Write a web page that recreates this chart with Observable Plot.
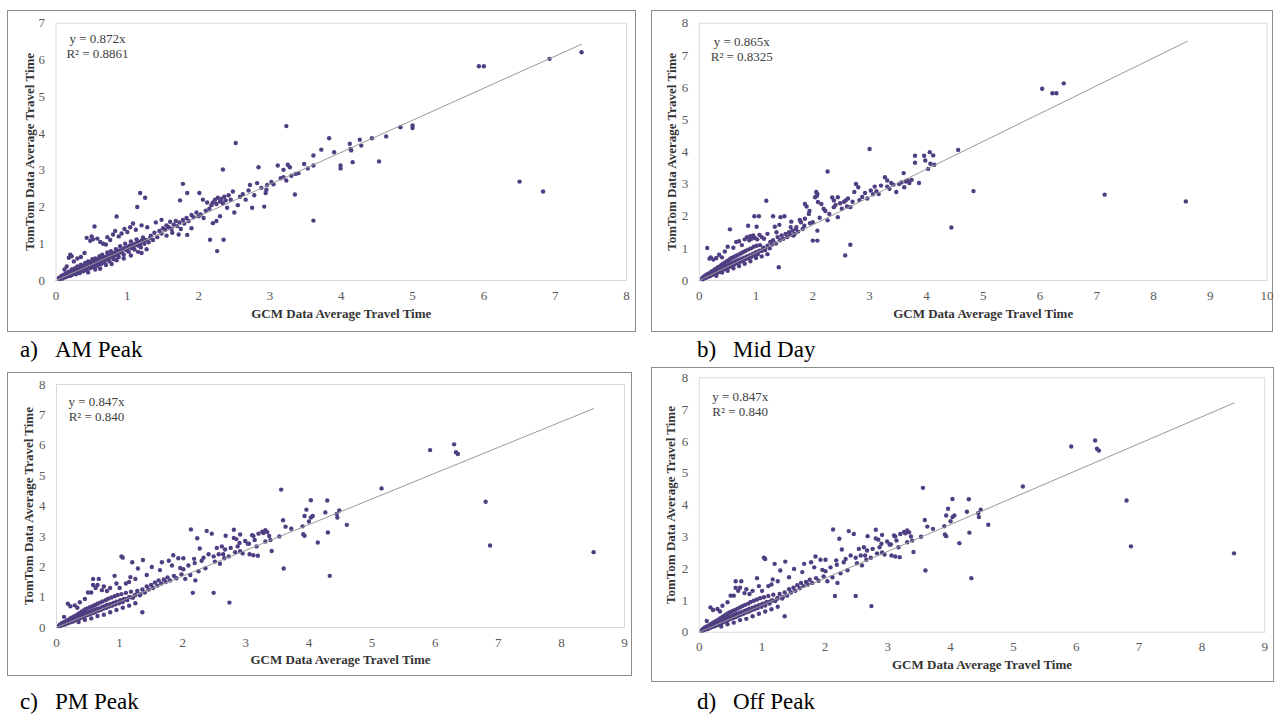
<!DOCTYPE html>
<html><head><meta charset="utf-8">
<script src="https://cdn.jsdelivr.net/npm/d3@7"></script>
<script src="https://cdn.jsdelivr.net/npm/@observablehq/plot@0.6"></script>
<style>
body{margin:0;background:#fff;}
#page{position:relative;width:1279px;height:714px;overflow:hidden;font-family:"Liberation Serif","Times New Roman",serif;}
.panel{position:absolute;outline:1px solid #8c8c8c;outline-offset:-1px;}
.panel svg{position:absolute;left:0;top:0;}
.cap{position:absolute;font-size:23px;color:#000;white-space:pre;line-height:1;}
</style></head><body><div id="page"></div>
<script>
const xTitle = "GCM Data Average Travel Time";
const yTitle = "TomTom Data Average Travel Time";
const captionLetters = ["a)", "b)", "c)", "d)"];
const captionNames = ["AM Peak", "Mid Day", "PM Peak", "Off Peak"];
const slopes = [0.872, 0.865, 0.847, 0.847];
const r2Labels = ["0.8861", "0.8325", "0.840", "0.840"];
const xMaxes = [8, 10, 9, 9];
const yMaxes = [7, 8, 8, 8];
const trendEndX = [7.37, 8.6, 8.51, 8.51];

const amPeak = [
[0.04,0.07],[0.05,0.04],[0.06,0.09],[0.07,0.06],[0.08,0.13],[0.09,0.05],[0.1,0.11],[0.11,0.16],[0.12,0.08],[0.13,0.12],[0.14,0.2],[0.15,0.1],[0.16,0.15],[0.17,0.12],[0.18,0.24],[0.19,0.17],[0.2,0.13],[0.21,0.21],[0.22,0.3],[0.23,0.16],[0.24,0.25],[0.25,0.19],[0.26,0.33],[0.27,0.22],[0.28,0.17],[0.29,0.29],[0.3,0.38],[0.31,0.24],[0.32,0.31],[0.33,0.2],[0.34,0.36],[0.35,0.43],[0.36,0.28],[0.37,0.33],[0.38,0.25],[0.39,0.4],[0.4,0.31],[0.41,0.48],[0.42,0.36],[0.43,0.28],[0.44,0.42],[0.45,0.52],[0.46,0.38],[0.47,0.45],[0.48,0.33],[0.49,0.5],[0.5,0.41],[0.51,0.58],[0.52,0.44],[0.53,0.36],[0.54,0.49],[0.55,0.6],[0.56,0.46],[0.57,0.53],[0.58,0.4],[0.59,0.56],[0.6,0.49],[0.61,0.66],[0.62,0.52],[0.63,0.44],[0.64,0.6],[0.65,0.7],[0.66,0.55],[0.67,0.62],[0.68,0.48],[0.7,0.64],[0.71,0.57],[0.72,0.76],[0.73,0.62],[0.75,0.52],[0.76,0.69],[0.77,0.8],[0.78,0.65],[0.8,0.72],[0.81,0.58],[0.82,0.75],[0.84,0.85],[0.85,0.7],[0.86,0.78],[0.88,0.64],[0.89,0.82],[0.9,0.93],[0.92,0.76],[0.93,0.84],[0.95,0.7],[0.96,0.88],[0.97,1.0],[0.99,0.82],[1.0,0.9],[1.02,0.78],[1.03,0.95],[1.05,1.06],[1.06,0.88],[1.08,0.97],[1.1,0.84],[1.11,1.0],[1.13,1.12],[1.15,0.95],[1.17,1.04],[1.19,0.9],[1.2,1.08],[1.22,1.17],[1.24,1.0],[1.26,1.1],[1.3,1.04],[1.32,1.16],
[0.06,0.07],[0.09,0.1],[0.12,0.14],[0.14,0.12],[0.16,0.19],[0.19,0.2],[0.21,0.15],[0.23,0.23],[0.25,0.26],[0.27,0.27],[0.29,0.22],[0.31,0.3],[0.33,0.34],[0.35,0.27],[0.37,0.39],[0.4,0.37],[0.42,0.42],[0.44,0.35],[0.46,0.47],[0.48,0.43],[0.5,0.47],[0.52,0.52],[0.54,0.43],[0.56,0.55],[0.58,0.5],[0.6,0.57],[0.63,0.55],[0.66,0.6],[0.69,0.58],[0.72,0.66],[0.75,0.62],[0.79,0.7],[0.83,0.68],[0.87,0.74],[0.91,0.8],[0.95,0.85],[1.0,0.86],[1.04,0.92],[1.09,0.93],[1.14,1.02],[1.18,0.98],[1.23,1.08],
[0.12,0.3],[0.15,0.38],[0.18,0.62],[0.2,0.7],[0.22,0.66],[0.25,0.52],[0.3,0.6],[0.35,0.64],[0.4,0.75],[0.43,1.16],[0.48,1.08],[0.5,1.2],[0.52,1.12],[0.54,1.47],[0.58,1.14],[0.62,1.05],[0.66,1.0],[0.7,0.98],[0.72,1.18],[0.76,1.1],[0.8,1.25],[0.83,1.35],[0.85,1.74],[0.88,1.2],[0.92,1.28],[0.96,1.4],[1.0,1.32],[1.04,1.45],[1.08,1.55],[1.12,1.38],[1.14,2.0],[1.18,2.38],[1.2,1.5],[1.25,2.25],[1.28,1.45],
[0.45,0.22],[0.55,0.3],[0.62,0.32],[0.7,0.42],[0.78,0.45],[0.85,0.55],[0.95,0.6],[1.05,0.68],[1.15,0.78],[1.27,0.85],[1.2,0.75],
[1.33,1.22],[1.36,1.1],[1.38,1.3],[1.42,1.18],[1.45,1.35],[1.48,1.28],[1.5,1.42],[1.53,1.38],[1.55,1.5],[1.58,1.45],[1.6,1.6],[1.62,1.4],[1.65,1.52],[1.68,1.62],[1.7,1.48],[1.73,1.58],[1.75,1.4],[1.78,1.65],[1.8,1.55],[1.83,1.7],[1.86,1.62],[1.9,1.78],[1.93,1.72],[1.97,1.85],[2.0,1.75],[2.03,1.8],[2.07,1.7],[2.1,1.9],[1.4,1.58],[1.48,1.65],[1.55,1.22],[1.63,1.3],[1.72,1.25],[1.84,1.24],[1.9,1.42],[1.74,2.18],[1.78,2.63],[1.84,2.38],[2.01,2.38],[2.06,2.2],[2.12,2.12],[2.16,1.11],[2.35,1.11],[2.26,0.8],[2.2,1.56],[2.25,1.62],[2.3,1.75],[2.15,1.95],[2.18,2.05],[2.2,2.12],[2.23,2.2],[2.25,2.08],[2.27,2.25],[2.3,2.15],[2.32,2.22],[2.34,2.1],[2.36,2.28],[2.38,2.18],[2.4,1.98],[2.42,2.32],[2.45,2.2],[2.48,2.42],[2.5,1.85],[2.34,3.02],[2.52,3.74],[2.55,2.05],[2.58,2.28],[2.62,2.35],[2.66,2.2],[2.7,2.45],[2.72,2.6],[2.75,1.98],[2.78,2.32],[2.82,2.65],[2.84,3.08],[2.88,2.52],[2.92,2.01],[2.94,2.38],[2.95,2.47],[2.96,2.6],[3.02,2.68],[3.05,2.62],[3.11,3.13],[3.15,2.78],[3.19,3.01],[3.19,2.81],[3.23,2.72],[3.25,3.15],[3.28,3.08],[3.3,2.85],[3.35,2.34],[3.36,2.9],[3.4,2.92],[3.48,3.17],[3.53,3.05],[3.61,3.4],[3.61,3.13],[3.61,1.63],[3.23,4.2],[3.72,3.56],[3.83,3.87],[3.9,3.49],[3.99,3.13],[3.99,3.05],[4.12,3.72],[4.13,3.58],[4.14,3.54],[4.16,3.22],[4.26,3.83],[4.28,3.67],[4.43,3.87],[4.53,3.24],[4.63,3.92],[4.83,4.17],[5.0,4.22],[5.0,4.15],[5.93,5.83],[6.0,5.83],[6.92,6.03],[7.37,6.21],[6.5,2.69],[6.83,2.42]
];

const midDay = [
[0.05,0.07],[0.06,0.04],[0.07,0.1],[0.08,0.06],[0.09,0.13],[0.1,0.08],[0.11,0.12],[0.12,0.17],[0.13,0.09],[0.14,0.14],[0.15,0.2],[0.16,0.12],[0.17,0.17],[0.18,0.23],[0.19,0.14],[0.2,0.19],[0.21,0.27],[0.22,0.17],[0.23,0.22],[0.24,0.3],[0.25,0.19],[0.26,0.25],[0.27,0.34],[0.28,0.21],[0.29,0.28],[0.3,0.37],[0.31,0.24],[0.32,0.3],[0.33,0.41],[0.34,0.26],[0.35,0.33],[0.36,0.44],[0.37,0.29],[0.38,0.36],[0.39,0.48],[0.4,0.31],[0.41,0.39],[0.42,0.52],[0.43,0.34],[0.44,0.42],[0.45,0.55],[0.46,0.36],[0.47,0.45],[0.48,0.59],[0.49,0.39],[0.5,0.47],[0.51,0.62],[0.52,0.42],[0.53,0.5],[0.54,0.66],[0.55,0.45],[0.56,0.53],[0.57,0.7],[0.58,0.47],[0.6,0.56],[0.61,0.73],[0.62,0.5],[0.63,0.59],[0.65,0.77],[0.66,0.54],[0.67,0.62],[0.69,0.8],[0.7,0.57],[0.71,0.65],[0.73,0.84],[0.74,0.6],[0.75,0.68],[0.77,0.88],[0.78,0.64],[0.79,0.71],[0.81,0.92],[0.82,0.67],[0.84,0.75],[0.86,0.96],[0.87,0.7],[0.89,0.78],[0.91,1.0],[0.92,0.74],[0.94,0.82],[0.96,1.05],[0.97,0.78],[0.99,0.86],[1.01,1.08],[1.03,0.82],[1.05,0.9],[1.07,1.1],[1.1,0.92],[1.13,1.02],[1.16,0.95],[1.2,1.08],[1.24,1.0],[1.28,1.12],
[0.1,0.11],[0.13,0.13],[0.16,0.16],[0.19,0.18],[0.22,0.2],[0.25,0.23],[0.28,0.26],[0.31,0.28],[0.34,0.31],[0.37,0.34],[0.4,0.36],[0.43,0.38],[0.46,0.41],[0.5,0.44],[0.54,0.48],[0.58,0.52],[0.62,0.55],[0.66,0.58],[0.7,0.62],[0.75,0.65],[0.8,0.7],[0.85,0.73],[0.9,0.78],[0.95,0.83],[1.0,0.88],[1.06,0.93],[1.12,0.97],
[0.14,1.01],[0.18,0.68],[0.2,0.72],[0.25,0.65],[0.3,0.7],[0.35,0.8],[0.4,0.72],[0.45,0.9],[0.5,1.05],[0.54,1.59],[0.6,1.02],[0.65,1.2],[0.7,1.22],[0.75,1.1],[0.8,1.28],[0.84,1.35],[0.86,1.7],[0.88,1.25],[0.9,1.38],[0.92,1.3],[0.95,1.4],[0.97,2.0],[0.98,1.32],[1.01,1.67],[1.02,1.28],[1.05,2.0],[1.06,1.42],[1.1,1.35],[1.14,1.3],[1.18,2.48],[1.2,1.45],[1.25,1.2],[1.3,2.0],[1.33,1.67],[1.36,1.5],[1.41,1.73],[1.43,1.97],
[0.3,0.15],[0.4,0.25],[0.5,0.3],[0.6,0.38],[0.7,0.45],[0.8,0.52],[0.9,0.6],[1.0,0.7],[1.1,0.75],[1.2,0.82],[1.4,0.41],
[1.3,1.25],[1.35,1.15],[1.38,1.35],[1.42,1.25],[1.45,1.4],[1.48,1.3],[1.5,2.0],[1.52,1.45],[1.55,1.35],[1.58,1.5],[1.6,1.42],[1.61,1.66],[1.64,1.55],[1.66,1.4],[1.68,1.45],[1.7,1.6],[1.71,1.66],[1.74,1.52],[1.77,1.88],[1.79,1.81],[1.62,1.83],[1.82,1.6],[1.85,1.7],[1.86,2.38],[1.86,1.92],[1.89,2.3],[1.93,2.07],[1.94,2.16],[1.95,1.78],[2.0,1.81],[2.0,1.24],[2.04,2.59],[2.06,2.75],[2.07,2.63],[2.08,2.69],[2.08,1.55],[2.08,1.24],[2.09,2.44],[2.12,1.95],[2.15,2.38],[2.19,2.23],[2.22,2.16],[2.26,3.39],[2.26,1.87],[2.29,2.07],[2.34,2.58],[2.37,2.28],[2.37,2.49],[2.4,2.35],[2.44,2.59],[2.44,1.97],[2.48,2.4],[2.51,2.23],[2.55,2.45],[2.57,0.78],[2.58,2.49],[2.6,2.3],[2.62,2.55],[2.66,1.11],[2.66,2.28],[2.7,2.45],[2.73,2.75],[2.76,3.0],[2.8,2.9],[2.82,2.5],[2.87,2.6],[2.92,2.72],[2.96,2.55],[3.0,4.09],[3.02,2.8],[3.06,2.68],[3.09,2.92],[3.12,2.78],[3.16,2.69],[3.2,2.95],[3.27,3.21],[3.31,3.11],[3.31,2.92],[3.35,2.85],[3.38,3.03],[3.42,2.98],[3.47,2.75],[3.52,3.0],[3.56,3.05],[3.6,3.34],[3.61,2.9],[3.64,3.08],[3.67,3.11],[3.7,3.03],[3.74,3.13],[3.8,3.88],[3.8,3.66],[3.87,3.03],[3.96,3.88],[3.98,3.73],[4.03,3.47],[4.06,3.99],[4.07,3.63],[4.12,3.89],[4.14,3.6],[4.44,1.65],[4.56,4.06],[4.83,2.78],[6.04,5.96],[6.22,5.82],[6.29,5.82],[6.42,6.13],[7.14,2.67],[8.57,2.46]
];

const pmPeak = [
[0.04,0.05],[0.05,0.09],[0.06,0.06],[0.07,0.11],[0.08,0.07],[0.09,0.15],[0.1,0.09],[0.11,0.13],[0.12,0.18],[0.13,0.1],[0.14,0.16],[0.15,0.12],[0.16,0.22],[0.17,0.14],[0.18,0.19],[0.19,0.26],[0.2,0.16],[0.21,0.22],[0.22,0.3],[0.23,0.18],[0.24,0.25],[0.25,0.33],[0.26,0.2],[0.27,0.28],[0.28,0.36],[0.29,0.23],[0.3,0.3],[0.31,0.4],[0.32,0.26],[0.33,0.33],[0.34,0.44],[0.35,0.28],[0.36,0.36],[0.37,0.48],[0.38,0.31],[0.39,0.39],[0.4,0.52],[0.41,0.34],[0.42,0.42],[0.43,0.56],[0.44,0.37],[0.45,0.45],[0.46,0.6],[0.47,0.4],[0.48,0.48],[0.49,0.63],[0.5,0.42],[0.52,0.51],[0.53,0.67],[0.54,0.45],[0.55,0.54],[0.57,0.7],[0.58,0.48],[0.59,0.57],[0.61,0.74],[0.62,0.52],[0.63,0.6],[0.65,0.78],[0.66,0.55],[0.67,0.63],[0.69,0.82],[0.7,0.58],[0.72,0.67],[0.73,0.86],[0.74,0.62],[0.76,0.7],[0.78,0.9],[0.79,0.65],[0.8,0.74],[0.82,0.95],[0.83,0.69],[0.85,0.77],[0.87,0.99],[0.88,0.72],[0.9,0.81],[0.92,1.03],[0.93,0.76],[0.95,0.85],[0.97,1.07],[0.99,0.8],[1.01,0.9],[1.03,1.1],[1.05,0.84],[1.07,0.94],[1.1,1.14],[1.12,0.9],[1.15,1.0],[1.18,1.18],[1.21,0.98],[1.25,1.08],[1.28,1.2],[1.32,1.06],
[0.1,0.1],[0.14,0.13],[0.18,0.16],[0.22,0.2],[0.26,0.23],[0.3,0.26],[0.34,0.3],[0.38,0.33],[0.42,0.36],[0.46,0.4],[0.5,0.44],[0.55,0.47],[0.6,0.51],[0.65,0.56],[0.7,0.6],[0.75,0.64],[0.8,0.69],[0.86,0.73],[0.92,0.79],[0.98,0.84],[1.04,0.89],[1.1,0.94],[1.17,1.0],[1.24,1.05],
[0.12,0.35],[0.18,0.78],[0.22,0.7],[0.29,0.73],[0.33,0.65],[0.37,0.83],[0.45,0.94],[0.5,1.15],[0.55,1.15],[0.58,1.4],[0.58,1.6],[0.62,1.3],[0.65,1.4],[0.67,1.6],[0.72,1.23],[0.75,1.35],[0.8,1.2],[0.85,1.3],[0.92,1.7],[0.95,1.45],[1.0,1.3],[1.03,2.34],[1.05,2.3],[1.1,1.45],[1.15,1.5],[1.17,1.66],[1.2,2.15],[1.25,1.6],[1.29,1.94],[1.37,2.22],[1.43,1.73],
[0.35,0.18],[0.45,0.25],[0.55,0.3],[0.65,0.38],[0.75,0.42],[0.85,0.5],[0.95,0.58],[1.05,0.65],[1.15,0.72],[1.25,0.8],[1.36,0.5],
[1.33,1.1],[1.36,1.25],[1.4,1.15],[1.43,1.35],[1.46,1.25],[1.5,1.4],[1.51,1.99],[1.53,1.3],[1.56,1.48],[1.6,1.38],[1.62,1.55],[1.64,1.89],[1.66,1.45],[1.67,2.15],[1.7,1.58],[1.73,1.5],[1.76,1.65],[1.78,2.2],[1.8,1.55],[1.83,2.04],[1.85,2.38],[1.86,1.7],[1.9,1.62],[1.93,2.28],[1.96,1.96],[1.98,1.75],[2.01,2.28],[2.01,1.92],[2.04,1.6],[2.09,2.04],[2.12,1.73],[2.13,3.23],[2.16,1.14],[2.18,2.26],[2.19,2.12],[2.2,1.55],[2.23,2.94],[2.25,1.85],[2.27,2.6],[2.3,2.2],[2.33,2.3],[2.36,1.95],[2.38,3.18],[2.41,2.41],[2.46,3.09],[2.49,2.34],[2.49,1.14],[2.51,2.17],[2.54,2.62],[2.57,2.41],[2.59,2.1],[2.62,2.67],[2.64,2.41],[2.66,2.28],[2.67,2.57],[2.68,3.02],[2.73,2.34],[2.74,0.82],[2.76,2.62],[2.81,3.22],[2.81,2.95],[2.83,2.48],[2.85,2.91],[2.87,2.67],[2.9,2.78],[2.91,3.06],[2.91,2.51],[2.95,2.44],[2.99,2.85],[3.03,2.76],[3.05,2.76],[3.06,2.41],[3.1,3.04],[3.12,3.01],[3.12,2.38],[3.14,2.88],[3.17,2.67],[3.19,2.36],[3.2,3.09],[3.26,3.15],[3.28,3.11],[3.31,3.2],[3.31,2.83],[3.34,3.14],[3.37,3.01],[3.39,2.88],[3.41,2.52],[3.53,3.0],[3.56,4.54],[3.59,3.53],[3.6,1.94],[3.63,3.32],[3.72,3.25],[3.9,3.33],[3.91,3.07],[3.93,3.02],[3.93,3.67],[3.96,3.88],[4.0,3.49],[4.03,3.62],[4.03,4.19],[4.06,3.67],[4.14,2.8],[4.26,3.79],[4.29,4.18],[4.3,3.13],[4.33,1.7],[4.44,3.74],[4.45,3.62],[4.48,3.85],[4.6,3.38],[5.15,4.58],[5.92,5.84],[6.3,6.03],[6.33,5.77],[6.36,5.71],[6.8,4.14],[6.87,2.7],[8.51,2.48]
];
const offPeak = pmPeak;

const datasets = [amPeak, midDay, pmPeak, offPeak];

// layout: box [left, top, width, height], margins [top, right, bottom, left]
const layout = [
  {box:[7,10,629,322],  m:[12.7,10,52,48.5], eq:[41.5,15.5], yT:-26.5, xT:33, cap:[20,55,338]},
  {box:[651,10,622,322], m:[12.7,6.5,52,47.8], eq:[42.5,19], yT:-27, xT:33, cap:[697,733,338]},
  {box:[7,372,625,304], m:[12,8,49,49],       eq:[40,17.7], yT:-28, xT:32, cap:[20,55,690]},
  {box:[651,367,623,315], m:[10.3,9.7,50.3,47.7], eq:[41,19.4], yT:-28, xT:33, cap:[697,733,690]}
];

const page = document.getElementById("page");
const FONT = '"Liberation Serif","Times New Roman",serif';

datasets.forEach((data, i) => {
  const L = layout[i];
  const [left, top, w, h] = L.box;
  const div = document.createElement("div");
  div.className = "panel";
  div.style.left = left + "px"; div.style.top = top + "px";
  div.style.width = w + "px"; div.style.height = h + "px";
  const trend = [{x:0, y:0}, {x:trendEndX[i], y:slopes[i]*trendEndX[i]}];
  const chart = Plot.plot({
    width: w, height: h,
    marginTop: L.m[0], marginRight: L.m[1], marginBottom: L.m[2], marginLeft: L.m[3],
    x: {domain:[0, xMaxes[i]], ticks: d3.range(0, xMaxes[i]+1), tickFormat: d => String(d), tickSize:0, tickPadding:10, label:null},
    y: {domain:[0, yMaxes[i]], ticks: d3.range(0, yMaxes[i]+1), tickFormat: d => String(d), tickSize:0, tickPadding:11, label:null},
    style: {fontFamily: FONT, fontSize:"13px", color:"#595959", background:"transparent", overflow:"visible"},
    marks: [
      Plot.frame({stroke:"#d9d9d9"}),
      Plot.dot(data, {x:d=>d[0], y:d=>d[1], r:2.2, fill:"#4f3f82", stroke:null}),
      Plot.line(trend, {x:"x", y:"y", stroke:"#9a9a9a", strokeWidth:1}),
      Plot.text(["y = " + slopes[i] + "x"], {frameAnchor:"top-left", dx:L.eq[0], dy:L.eq[1], textAnchor:"middle", lineAnchor:"middle", fontSize:13, fill:"#404040", fontFamily:FONT}),
      Plot.text(["R² = " + r2Labels[i]], {frameAnchor:"top-left", dx:L.eq[0], dy:L.eq[1]+15, textAnchor:"middle", lineAnchor:"middle", fontSize:13, fill:"#404040", fontFamily:FONT}),
      Plot.text([xTitle], {frameAnchor:"bottom", dy:L.xT, textAnchor:"middle", lineAnchor:"middle", fontSize:13, fontWeight:"bold", fill:"#333", fontFamily:FONT}),
      Plot.text([yTitle], {frameAnchor:"left", dx:L.yT, rotate:-90, textAnchor:"middle", lineAnchor:"middle", fontSize:13, fontWeight:"bold", fill:"#333", fontFamily:FONT})
    ]
  });
  div.appendChild(chart);
  page.appendChild(div);

  const c1 = document.createElement("div");
  c1.className = "cap"; c1.textContent = captionLetters[i];
  c1.style.left = L.cap[0] + "px"; c1.style.top = L.cap[2] + "px";
  page.appendChild(c1);
  const c2 = document.createElement("div");
  c2.className = "cap"; c2.textContent = captionNames[i];
  c2.style.left = L.cap[1] + "px"; c2.style.top = L.cap[2] + "px";
  page.appendChild(c2);
});
</script></body></html>
